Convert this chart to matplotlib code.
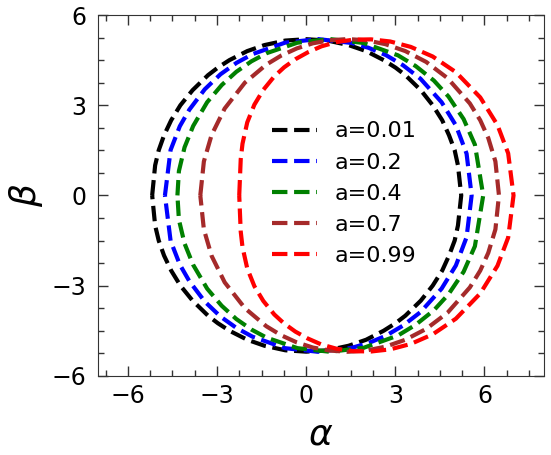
import matplotlib
matplotlib.use("Agg")
import matplotlib.pyplot as plt
import numpy as np
from matplotlib.ticker import MultipleLocator, AutoMinorLocator

# upper half of each shadow contour (alpha, beta); lower half is mirrored
spin_labels = ["a=0.01", "a=0.2", "a=0.4", "a=0.7", "a=0.99"]
line_colors = ["black", "blue", "green", "brown", "red"]

alpha_001 = [-5.18, -5.08, -4.96, -4.78, -4.54, -4.23, -3.82, -3.30, -2.97, -2.58, -1.98, -1.40, -0.70, 0.00,
             0.72, 1.43, 2.02, 2.61, 3.01, 3.34, 3.86, 4.26, 4.58, 4.81, 5.00, 5.11, 5.22]
beta_001 = [0.00, 1.00, 1.50, 2.00, 2.50, 3.00, 3.50, 4.00, 4.25, 4.50, 4.80, 5.00, 5.15, 5.196,
            5.15, 5.00, 4.80, 4.50, 4.25, 4.00, 3.50, 3.00, 2.50, 2.00, 1.50, 1.00, 0.00]

alpha_02 = [-4.75, -4.56, -4.25, -3.93, -3.41, -2.88, -2.34, -1.80, -0.71, 0.40, 1.53, 2.10, 2.68, 3.26,
            3.85, 4.56, 5.04, 5.40, 5.57]
beta_02 = [0.00, 1.51, 2.30, 2.85, 3.53, 4.03, 4.41, 4.70, 5.08, 5.20, 5.07, 4.91, 4.67, 4.33,
           3.88, 3.10, 2.33, 1.39, 0.00]

alpha_04 = [-4.33, -4.28, -4.09, -3.80, -3.33, -2.84, -2.35, -1.84, -1.33, -0.29, 0.80, 1.93, 3.09, 3.69,
            4.30, 4.79, 5.30, 5.68, 5.96]
beta_04 = [0.00, 0.81, 1.60, 2.31, 3.10, 3.67, 4.11, 4.46, 4.73, 5.08, 5.20, 5.07, 4.66, 4.30,
           3.82, 3.29, 2.54, 1.69, 0.00]

alpha_07 = [-3.56, -3.44, -3.18, -2.74, -2.06, -1.34, -0.84, -0.31, 0.23, 0.80, 1.40, 2.02, 2.67, 3.34,
            4.04, 4.76, 5.51, 5.86, 6.13, 6.37, 6.49]
beta_07 = [0.00, 1.13, 2.01, 2.89, 3.75, 4.35, 4.65, 4.89, 5.06, 5.16, 5.20, 5.16, 5.03, 4.80,
           4.44, 3.90, 3.06, 2.50, 1.91, 1.13, 0.00]

alpha_099 = [-2.25, -2.20, -2.14, -1.98, -1.74, -1.44, -1.07, -0.74, -0.36, 0.06, 0.52, 1.03, 1.59, 2.19,
             2.83, 3.52, 4.26, 5.04, 5.86, 6.44, 6.80, 6.98]
beta_099 = [0.00, 1.20, 1.72, 2.43, 3.02, 3.51, 3.96, 4.26, 4.53, 4.76, 4.96, 5.10, 5.18, 5.19,
            5.12, 4.94, 4.62, 4.10, 3.26, 2.34, 1.40, 0.00]

alphas = [alpha_001, alpha_02, alpha_04, alpha_07, alpha_099]
betas = [beta_001, beta_02, beta_04, beta_07, beta_099]

fig = plt.figure(figsize=(5.51, 4.55), dpi=100)
ax = fig.add_axes([0.178, 0.174, 0.809, 0.793])

for al, be, lab, col in zip(alphas, betas, spin_labels, line_colors):
    al = np.array(al)
    be = np.array(be)
    x = np.concatenate([al, al[::-1][1:]])
    y = np.concatenate([be, -be[::-1][1:]])
    ax.plot(x, y, '--', color=col, lw=3, label=lab)

ax.set_xlim(-7, 8)
ax.set_ylim(-6, 6)
ax.xaxis.set_major_locator(MultipleLocator(3))
ax.yaxis.set_major_locator(MultipleLocator(3))
ax.xaxis.set_minor_locator(AutoMinorLocator(4))
ax.yaxis.set_minor_locator(AutoMinorLocator(4))
ax.tick_params(which='both', direction='in', top=True, right=True, labelsize=17, color='0.2')
ax.tick_params(which='major', length=7, width=1)
ax.tick_params(which='minor', length=4.3, width=1)
ax.tick_params(axis='x', pad=6)
ax.tick_params(axis='y', pad=8.5)
for s in ax.spines.values():
    s.set_color('0.2')

ax.set_xlabel(r'$\alpha$', fontsize=26, labelpad=7)
ax.set_ylabel(r'$\beta$', fontsize=26, labelpad=5)

ax.legend(loc='center', bbox_to_anchor=(0.552, 0.505), frameon=False, fontsize=16)

fig.savefig('out.png', dpi=100)
